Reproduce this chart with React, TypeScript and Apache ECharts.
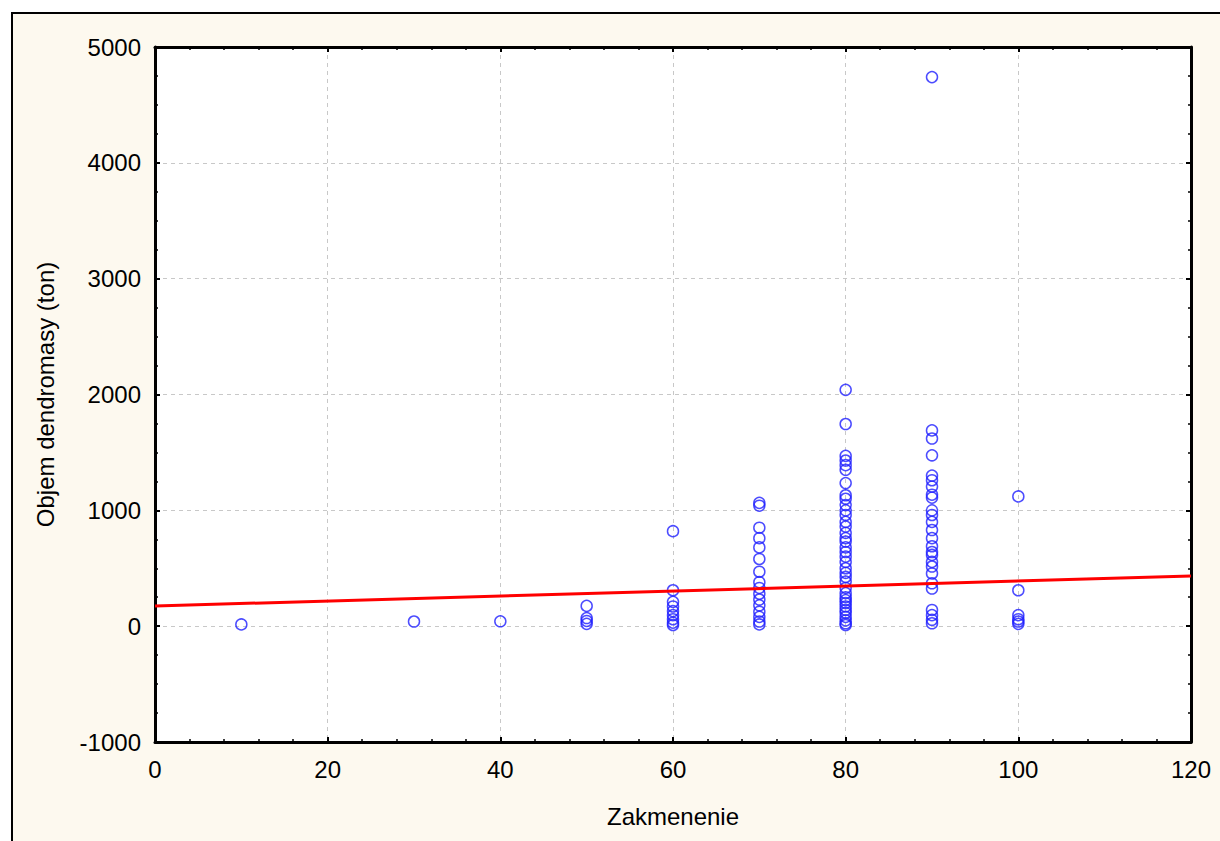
import React, { useEffect, useRef } from "react";
import * as echarts from "echarts";

// Zakmenenie (x) groups and Objem dendromasy (ton) values
const X_GROUPS = [10, 30, 40, 50, 60, 70, 80, 90, 100];
const Y_AT_10 = [15];
const Y_AT_30 = [40];
const Y_AT_40 = [42];
const Y_AT_50 = [175, 70, 45, 20];
const Y_AT_60 = [820, 310, 210, 170, 130, 95, 60, 30, 10];
const Y_AT_70 = [1064, 1040, 850, 760, 680, 580, 470, 380, 330, 280, 230, 180, 125, 80, 40, 15];
const Y_AT_80 = [
  2040, 1745, 1470, 1430, 1390, 1350, 1235, 1130, 1100, 1045, 1000, 960, 900, 860, 805, 760, 730, 680,
  640, 600, 555, 500, 460, 425, 385, 330, 285, 250, 225, 200, 170, 140, 115, 80, 50, 25, 10,
];
const Y_AT_90 = [
  4740, 1690, 1620, 1475, 1300, 1260, 1205, 1135, 1110, 1000, 960, 900, 830, 760, 690, 640, 615, 555,
  515, 455, 370, 325, 140, 95, 55, 25,
];
const Y_AT_100 = [1120, 310, 95, 60, 40, 20];
const Y_GROUPS = [Y_AT_10, Y_AT_30, Y_AT_40, Y_AT_50, Y_AT_60, Y_AT_70, Y_AT_80, Y_AT_90, Y_AT_100];

// Fitted line endpoints
const FIT_X = [0, 120];
const FIT_Y = [174, 433];

const X_TITLE = "Zakmenenie";
const Y_TITLE = "Objem dendromasy (ton)";

const FONT = "'Liberation Sans', Arial, sans-serif";

export default function App() {
  const ref = useRef<HTMLDivElement>(null);

  useEffect(() => {
    if (!ref.current) return;
    const chart = echarts.init(ref.current, undefined, { renderer: "svg" });

    const points: number[][] = [];
    X_GROUPS.forEach((x, i) => {
      Y_GROUPS[i].forEach((y) => points.push([x, y]));
    });
    const fit = FIT_X.map((x, i) => [x, FIT_Y[i]]);

    const axisLine = { show: true, onZero: false, lineStyle: { color: "#000", width: 3 } };
    const axisTick = { show: true, inside: true, length: 5, lineStyle: { color: "#000", width: 2 } };
    const minorLine = { color: "#000", width: 1.5 };
    const splitLine = { show: true, lineStyle: { color: "#c8c8c8", width: 1, type: [4, 4] } };
    const label = { color: "#000", fontSize: 24, fontFamily: FONT };
    const nameStyle = { color: "#000", fontSize: 24, fontFamily: FONT };

    chart.setOption({
      animation: false,
      backgroundColor: "transparent",
      grid: {
        left: 155,
        top: 47,
        width: 1036,
        height: 695,
        show: true,
        backgroundColor: "#ffffff",
        borderWidth: 0,
      },
      xAxis: [
        {
          type: "value",
          position: "bottom",
          min: 0,
          max: 120,
          interval: 20,
          axisLine,
          axisTick,
          minorTick: { show: true, splitNumber: 5, length: 3, lineStyle: minorLine },
          axisLabel: { ...label, margin: 15 },
          splitLine,
          name: X_TITLE,
          nameLocation: "middle",
          nameGap: 62,
          nameTextStyle: nameStyle,
        },
        {
          type: "value",
          position: "top",
          min: 0,
          max: 120,
          interval: 20,
          axisLine,
          axisTick,
          minorTick: { show: true, splitNumber: 5, length: 3, lineStyle: minorLine },
          axisLabel: { show: false },
          splitLine: { show: false },
        },
      ],
      yAxis: [
        {
          type: "value",
          position: "left",
          min: -1000,
          max: 5000,
          interval: 1000,
          axisLine,
          axisTick,
          minorTick: { show: true, splitNumber: 4, length: 3, lineStyle: minorLine },
          axisLabel: { ...label, margin: 14, formatter: (v: number) => String(v) },
          splitLine,
          name: Y_TITLE,
          nameLocation: "middle",
          nameGap: 98,
          nameTextStyle: nameStyle,
        },
        {
          type: "value",
          position: "right",
          min: -1000,
          max: 5000,
          interval: 1000,
          axisLine,
          axisTick,
          minorTick: { show: true, splitNumber: 4, length: 3, lineStyle: minorLine },
          axisLabel: { show: false },
          splitLine: { show: false },
        },
      ],
      series: [
        {
          type: "scatter",
          xAxisIndex: 0,
          yAxisIndex: 0,
          data: points,
          symbol: "circle",
          symbolSize: 11,
          itemStyle: { color: "transparent", borderColor: "#1f1fff", borderWidth: 1.5 },
          z: 2,
        },
        {
          type: "line",
          xAxisIndex: 0,
          yAxisIndex: 0,
          data: fit,
          showSymbol: false,
          symbol: "none",
          lineStyle: { color: "#ff0000", width: 3 },
          z: 3,
        },
      ],
    });

    return () => chart.dispose();
  }, []);

  return (
    <>
      <div
        style={{
          position: "fixed",
          left: 11,
          top: 12,
          width: 1240,
          height: 860,
          boxSizing: "border-box",
          border: "2px solid #000",
          background: "#fdf9ef",
        }}
      />
      <div
        ref={ref}
        style={{ position: "fixed", left: 0, top: 0, width: 1220, height: 841 }}
      />
    </>
  );
}
